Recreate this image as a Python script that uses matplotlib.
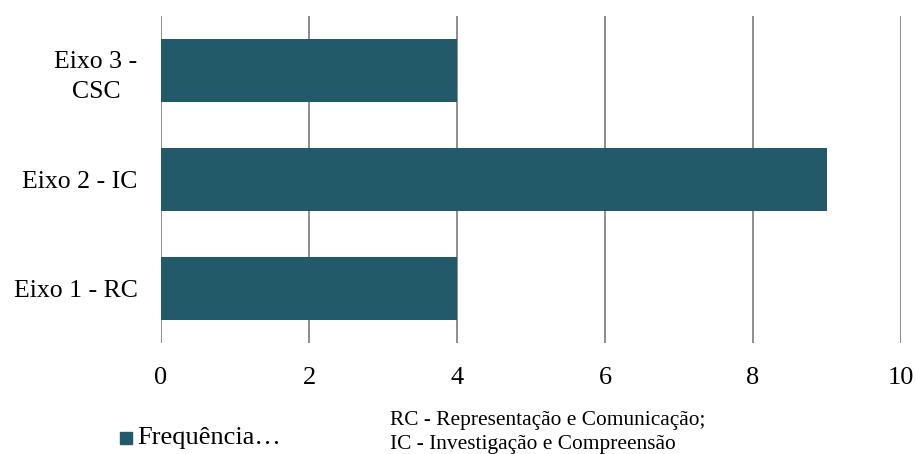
import matplotlib.pyplot as plt

# Data
categories = ['Eixo 1 - RC', 'Eixo 2 - IC', 'Eixo 3 -\nCSC']
frequencia = [4, 9, 4]
x_ticks = [0, 2, 4, 6, 8, 10]
legend_label = 'Frequência…'
notes = ['RC - Representação e Comunicação;', 'IC - Investigação e Compreensão']

plt.rcParams['font.family'] = ['Liberation Serif', 'DejaVu Serif']

fig = plt.figure(figsize=(9.16, 4.54), dpi=100)
ax = fig.add_axes([161 / 916, 1 - 343 / 454, 740 / 916, 327 / 454])

bar_color = '#235A69'
ax.barh(range(len(categories)), frequencia, height=0.57, color=bar_color, zorder=3)

ax.set_xlim(0, 10)
ax.set_ylim(-0.5, 2.5)
ax.set_xticks(x_ticks)
ax.set_xticklabels([str(t) for t in x_ticks], fontsize=19)
ax.set_yticks(range(len(categories)))
ax.set_yticklabels(categories, fontsize=18.5, multialignment='center', linespacing=1.45)
ax.tick_params(axis='both', length=0)
ax.tick_params(axis='x', pad=17)
ax.tick_params(axis='y', pad=17)

ax.grid(axis='x', color='#8c8c8c', linewidth=1.4, zorder=0)
ax.grid(axis='y', visible=False)
for s in ax.spines.values():
    s.set_visible(False)

# legend
fig.patches.append(plt.Rectangle((120 / 916, 1 - 444 / 454), 12 / 916, 12 / 454,
                                 transform=fig.transFigure, color=bar_color))
fig.text(137 / 916, 1 - 438 / 454, legend_label, fontsize=19, va='center', ha='left')

# notes
fig.text(390 / 916, 1 - 420 / 454, notes[0], fontsize=15.4, va='center', ha='left')
fig.text(390 / 916, 1 - 444 / 454, notes[1], fontsize=15.4, va='center', ha='left')

fig.savefig('out.png', dpi=100)
